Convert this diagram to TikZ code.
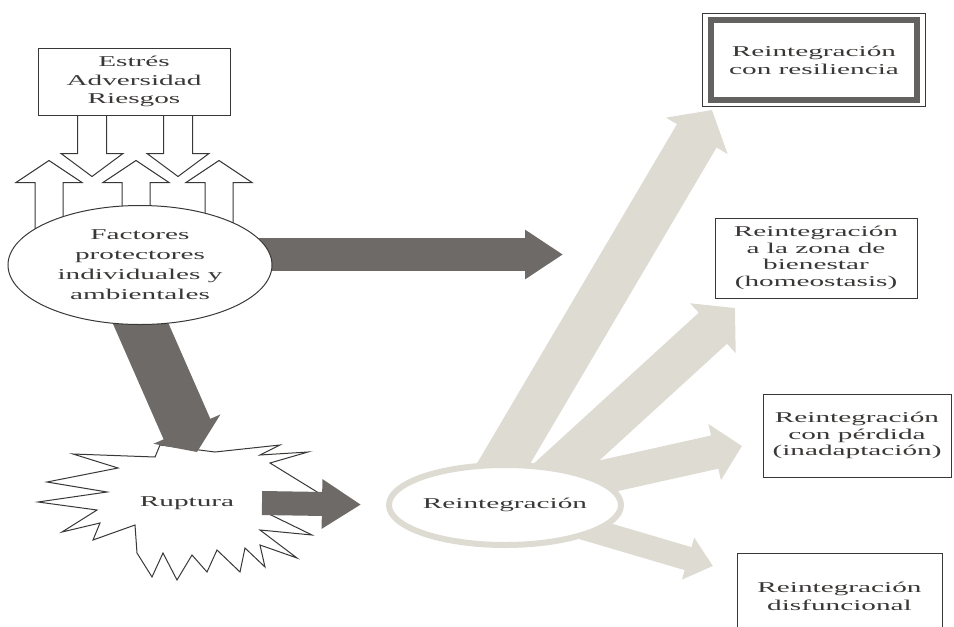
\documentclass[tikz,border=0pt]{standalone}
\usepackage{fontspec}
\setmainfont{Liberation Serif}[FakeStretch=1.95]
\usetikzlibrary{arrows.meta,positioning,calc,backgrounds,shapes.geometric}
\definecolor{ink}{RGB}{58,56,55}
\definecolor{framegray}{RGB}{100,98,96}
\definecolor{darkarrow}{RGB}{110,106,103}
\definecolor{palearrow}{RGB}{222,220,210}

\begin{document}
\begin{tikzpicture}[x=1pt, y=-1pt, every node/.style={font=\fontsize{15}{17}\selectfont, text=ink, align=center},
  box/.style={draw=ink, line width=1pt, fill=white, inner sep=0pt},
  hollow/.style={draw=ink, line width=1pt, fill=white},
  fat/.style n args={3}{line width=#1, -{Triangle[width=#2, length=#3]}}]
\path[use as bounding box, clip] (0,0) rectangle (954,627);

\node[box, minimum width=192pt, minimum height=67pt, font=\fontsize{15}{18.5}\selectfont] (stress) at (134,81.5) {Estrés\\Adversidad\\Riesgos};
\node[ellipse, box, minimum width=264pt, minimum height=119pt, font=\fontsize{15}{20}\selectfont] (factors) at (140,265) {Factores\\protectores\\individuales y\\ambientales};
\node (rupt) at (187,503) {Ruptura};
\node[ellipse, draw=palearrow, line width=6pt, fill=white, minimum width=180pt, minimum height=80pt, inner sep=0pt] (reint) at (505,505) {Reintegración};

\node[box, line width=1.2pt, minimum width=222.8pt, minimum height=92.8pt, font=\fontsize{15}{18}\selectfont] (resil) at (814,60) {Reintegración\\con resiliencia};
\draw[line width=6pt, draw=framegray] ($(resil.north west)+(9,7)$) rectangle ($(resil.south east)+(-9,-7)$);
\node[box, minimum width=202pt, minimum height=80pt, font=\fontsize{15}{16.5}\selectfont] (home) at (816,258) {Reintegración\\a la zona de\\bienestar\\(homeostasis)};
\node[box, minimum width=188pt, minimum height=83pt, font=\fontsize{15}{16.5}\selectfont] (loss) at (857,435.5) {Reintegración\\con pérdida\\(inadaptación)};
\node[box, minimum width=205pt, minimum height=86pt, font=\fontsize{15}{18}\selectfont] (dysf) at (839.5,596) {Reintegración\\disfuncional};

\coordinate (h) at (563,254.5);
\coordinate (k) at (197,452);
\coordinate (t1) at (712,110);
\coordinate (t2) at (735,308);
\coordinate (t3) at (742,446);
\coordinate (t4) at (713,566);

\begin{scope}[on background layer]
\foreach \dx in {-42,44}
  \draw[hollow] ($(stress.south)+(\dx-14.5,0)$) -- ++(0,38) -- ++(-16.5,0) -- ++(31,23) -- ++(31,-23) -- ++(-16.5,0) -- ++(0,-38);
\foreach \dx in {-85,2,85}
  \draw[hollow] ($(stress.south)+(\dx-14,125)$) -- ++(0,-58) -- ++(-19,0) -- ++(33,-22) -- ++(33,22) -- ++(-19,0) -- ++(0,58);
\draw[hollow] (160,445) -- (155,457) -- (73,454) -- (118,468) -- (47,482) -- (107,492) -- (38,502) -- (97,510)
  -- (62,532) -- (100,523) -- (93,540) -- (135,525) -- (137,553) -- (152,577) -- (163,553) -- (177,580) -- (192,555)
  -- (207,572) -- (217,550) -- (240,572) -- (245,548) -- (265,567) -- (260,545) -- (297,558) -- (260,530)
  -- (312,535) -- (267,513) -- (322,495) -- (270,463) -- (308,452) -- (260,455) -- (280,445) -- (215,452) -- cycle;
\draw[fat={33pt}{47pt}{38pt}, darkarrow] (factors.center |- h) -- (h);
\draw[fat={51pt}{72pt}{25pt}, darkarrow] ($(factors.center)+(-14,25)$) -- (k);
\draw[fat={24pt}{47pt}{39pt}, darkarrow, shorten >=25pt] ($(rupt.center)+(75,0)$) -- (reint.west);
\draw[fat={46pt}{70pt}{30pt}, palearrow] ($(reint.center)+(-30,7)$) -- (t1);
\draw[fat={42pt}{66pt}{30pt}, palearrow] ($(reint.center)+(20,-5)$) -- (t2);
\draw[fat={34pt}{56pt}{28pt}, palearrow] ($(reint.center)+(35,-14)$) -- (t3);
\draw[fat={24pt}{42pt}{26pt}, palearrow] ($(reint.center)+(35,10)$) -- (t4);
\end{scope}
\end{tikzpicture}
\end{document}
